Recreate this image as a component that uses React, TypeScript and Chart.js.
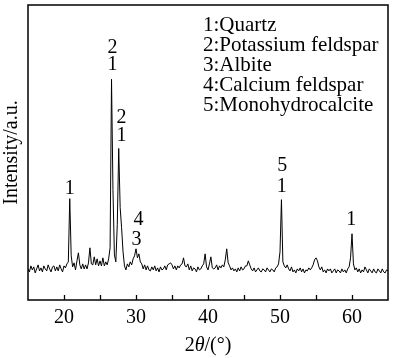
import React, { useEffect, useRef } from "react";
import { Chart, registerables } from "chart.js";

Chart.register(...registerables);

// 2θ sampling grid of the diffractogram (degrees)
const TWO_THETA_START = 15;
const TWO_THETA_STEP = 0.2;

const intensity = [
  31, 28, 34, 30, 33, 27, 31, 35, 29, 32, // 15.0–16.8
  28, 34, 31, 29, 35, 31, 28, 33, 34, 29, // 17.0–18.8
  33, 29, 35, 31, 28, 34, 32, 36, 38, 101, // 19.0–20.8
  44, 33, 37, 30, 39, 47, 35, 31, 36, 31, // 21.0–22.8
  35, 31, 37, 52, 36, 35, 43, 35, 41, 34, // 23.0–24.8
  39, 34, 42, 34, 38, 35, 41, 52, 220, 110, // 25.0–26.8
  45, 38, 75, 151, 92, 72, 48, 34, 30, 36, // 27.0–28.8
  33, 38, 35, 41, 44, 51, 42, 46, 38, 36, // 29.0–30.8
  31, 35, 30, 34, 30, 29, 33, 30, 34, 29, // 31.0–32.8
  32, 28, 33, 30, 31, 34, 30, 35, 36, 37, // 33.0–34.8
  35, 31, 34, 30, 34, 32, 35, 36, 42, 34, // 35.0–36.8
  33, 36, 30, 34, 29, 32, 31, 28, 33, 30, // 37.0–38.8
  31, 34, 36, 46, 33, 30, 36, 43, 32, 31, // 39.0–40.8
  32, 35, 30, 34, 32, 35, 33, 40, 51, 37, // 41.0–42.8
  34, 30, 32, 29, 31, 28, 32, 29, 33, 30, // 43.0–44.8
  31, 34, 34, 39, 35, 31, 29, 32, 28, 30, // 45.0–46.8
  32, 29, 28, 31, 30, 28, 32, 30, 28, 31, // 47.0–48.8
  30, 28, 32, 33, 36, 48, 100, 38, 34, 32, // 49.0–50.8
  35, 31, 29, 33, 28, 30, 27, 31, 29, 32, // 51.0–52.8
  28, 31, 27, 30, 29, 32, 30, 32, 35, 40, // 53.0–54.8
  42, 39, 33, 30, 33, 28, 30, 27, 31, 29, // 55.0–56.8
  31, 27, 29, 31, 27, 30, 29, 27, 31, 28, // 57.0–58.8
  30, 27, 31, 33, 42, 66, 36, 30, 32, 28, // 59.0–60.8
  31, 27, 30, 28, 33, 30, 27, 31, 29, 27, // 61.0–62.8
  31, 28, 27, 31, 29, 27, 31, 28, 27, 30, // 63.0–64.8
  29, // 65.0
];

// Axis
const X_MIN = 15;
const X_MAX = 65;
const X_STEP = 5;
const xLabelled = [20, 30, 40, 50, 60];
const Y_MIN = 0;
const Y_MAX = 294;

// Phase markers above peaks (data coordinates)
const peakLabelText = ["1", "2", "1", "2", "1", "4", "3", "5", "1", "1"];
const peakLabelX = [20.8, 26.74, 26.74, 27.98, 27.98, 30.33, 30.06, 50.3, 50.25, 59.9];
const peakLabelY = [111, 251, 234, 182, 164, 80, 60, 134, 113, 80];

// Phase key
const legendLines = [
  "1:Quartz",
  "2:Potassium feldspar",
  "3:Albite",
  "4:Calcium feldspar",
  "5:Monohydrocalcite",
];

const FAMILY = '"Liberation Serif", "Times New Roman", Times, serif';

const decorPlugin = {
  id: "decor",
  afterDatasetsDraw(chart: any) {
    const { ctx, chartArea: a, scales } = chart;
    const xs = scales.x;
    const ys = scales.y;
    ctx.save();
    ctx.strokeStyle = "#000";
    ctx.fillStyle = "#000";

    // frame
    ctx.lineWidth = 1.5;
    ctx.strokeRect(a.left, a.top, a.right - a.left, a.bottom - a.top);

    // inward tick marks
    ctx.lineWidth = 1.3;
    xs.ticks.forEach((t: any) => {
      if (t.value <= xs.min || t.value >= xs.max) return;
      const px = Math.round(xs.getPixelForValue(t.value)) + 0.5;
      ctx.beginPath();
      ctx.moveTo(px, a.bottom);
      ctx.lineTo(px, a.bottom - 5);
      ctx.stroke();
    });

    // peak labels
    ctx.font = `20px ${FAMILY}`;
    ctx.textAlign = "center";
    ctx.textBaseline = "middle";
    peakLabelText.forEach((s, i) => {
      ctx.fillText(s, xs.getPixelForValue(peakLabelX[i]), ys.getPixelForValue(peakLabelY[i]));
    });

    // legend of phases
    ctx.font = `21px ${FAMILY}`;
    ctx.textAlign = "left";
    legendLines.forEach((s, i) => {
      ctx.fillText(s, a.left + 175, a.top + 20 + 20 * i);
    });

    // x-axis title: 2θ/(°) with italic θ
    const parts = [
      { t: "2", f: `20px ${FAMILY}` },
      { t: "θ", f: `italic 20px ${FAMILY}` },
      { t: "/(°)", f: `20px ${FAMILY}` },
    ];
    let total = 0;
    const widths = parts.map((p) => {
      ctx.font = p.f;
      const w = ctx.measureText(p.t).width;
      total += w;
      return w;
    });
    let x = (a.left + a.right) / 2 - total / 2;
    const ty = a.bottom + 46;
    parts.forEach((p, i) => {
      ctx.font = p.f;
      ctx.fillText(p.t, x, ty);
      x += widths[i];
    });

    ctx.restore();
  },
};

export default function App() {
  const canvasRef = useRef<HTMLCanvasElement | null>(null);

  useEffect(() => {
    document.body.style.margin = "0";
    const canvas = canvasRef.current;
    if (!canvas) return;
    const points = intensity.map((v, i) => ({
      x: TWO_THETA_START + i * TWO_THETA_STEP,
      y: v,
    }));
    const chart = new Chart(canvas, {
      type: "line",
      data: {
        datasets: [
          {
            data: points,
            borderColor: "#000",
            borderWidth: 1,
            pointRadius: 0,
            tension: 0,
            fill: false,
          },
        ],
      },
      options: {
        animation: false,
        responsive: false,
        maintainAspectRatio: false,
        devicePixelRatio: 1,
        layout: { padding: { top: 5, right: 4, bottom: 22, left: 0 } },
        plugins: {
          legend: { display: false },
          tooltip: { enabled: false },
        },
        scales: {
          x: {
            type: "linear",
            min: X_MIN,
            max: X_MAX,
            grid: { display: false, drawTicks: false, tickLength: 0 },
            border: { display: false },
            ticks: {
              stepSize: X_STEP,
              autoSkip: false,
              maxRotation: 0,
              padding: 6,
              color: "#000",
              font: { family: FAMILY, size: 20 },
              callback: (v: any) => (xLabelled.includes(Number(v)) ? String(v) : ""),
            },
          },
          y: {
            min: Y_MIN,
            max: Y_MAX,
            grid: { display: false, drawTicks: false, tickLength: 0 },
            border: { display: false },
            ticks: { display: false },
            title: {
              display: true,
              text: "Intensity/a.u.",
              color: "#000",
              font: { family: FAMILY, size: 20 },
              padding: { top: 0, bottom: 4 },
            },
          },
        },
      },
      plugins: [decorPlugin],
    } as any);
    return () => chart.destroy();
  }, []);

  return (
    <div style={{ width: 394, height: 358 }}>
      <canvas ref={canvasRef} width={394} height={358} style={{ display: "block" }} />
    </div>
  );
}
